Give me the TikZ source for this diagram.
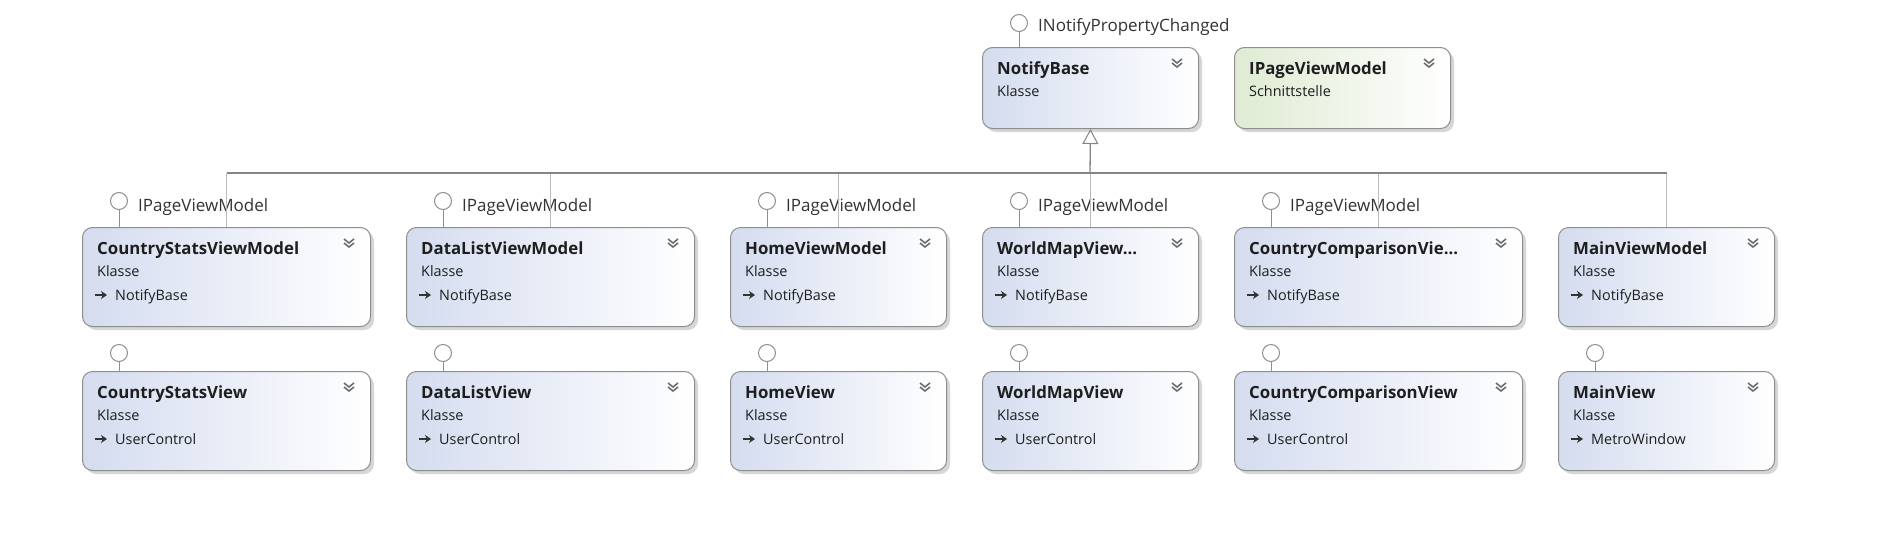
\documentclass[tikz,border=0pt]{standalone}
\usepackage{fontspec}
\setmainfont{Open Sans}
\usetikzlibrary{calc,arrows.meta}
\definecolor{bordc}{HTML}{8E8E8E}
\definecolor{clsL}{HTML}{D4DCEF}
\definecolor{ifcL}{HTML}{DFEBD3}
\definecolor{shadc}{HTML}{D6D6D6}
\definecolor{trunkc}{HTML}{85857F}
\definecolor{stemc}{HTML}{BABABA}
\definecolor{chevc}{HTML}{6E6E6E}
\definecolor{txtc}{HTML}{1E1E1E}
\definecolor{lblc}{HTML}{333333}
\tikzset{
  umlbox/.style={draw=bordc, line width=1pt, rounded corners=10pt, anchor=north west, inner sep=0pt},
  clsfill/.style={left color=clsL, right color=white},
  ifcfill/.style={left color=ifcL, right color=white},
  chev/.style={draw=chevc, line width=1.6pt},
  ttl/.style={anchor=base west, inner sep=0pt, text=txtc, font=\bfseries\fontsize{16.8}{20}\selectfont},
  sub/.style={anchor=base west, inner sep=0pt, text=txtc, font=\fontsize{14.4}{17}\selectfont},
  lbl/.style={anchor=base west, inner sep=0pt, text=lblc, font=\fontsize{17}{20}\selectfont},
  glyph/.style={draw=lblc, line width=2pt, -{Stealth[length=6pt,width=8pt]}},
  lolli/.style={circle, draw=bordc, fill=white, line width=1pt, minimum size=17pt, inner sep=0pt},
  lstem/.style={draw=bordc, line width=1pt},
  trunk/.style={draw=trunkc, line width=1.3pt},
  stem/.style={draw=stemc, line width=1.3pt},
}
\newcommand\mkbox[6]{%
  \fill[shadc, rounded corners=10pt] (#2+4,#3+4) rectangle ++(#4,#5);
  \node[umlbox, #6, minimum width=#4pt, minimum height=#5pt] (#1) at (#2,#3) {};
  \draw[chev] ($(#1.north east)+(-27,12)$) -- ++(5,4) -- ++(5,-4);
  \draw[chev] ($(#1.north east)+(-27,16)$) -- ++(5,4) -- ++(5,-4);
}
\newcommand\mktext[4]{%
  \node[ttl] (#1-t) at ($(#1.north west)+(15,27)$) {#2};
  \node[sub] (#1-k) at ($(#1.north west)+(15,49)$) {#3};
  \if\relax\detokenize{#4}\relax\else
    \draw[glyph] ($(#1.north west)+(13,68)$) -- ++(12,0);
    \node[sub] (#1-b) at ($(#1.north west)+(33,73)$) {#4};
  \fi
}
\newcommand\mklolli[4]{%
  \node[lolli] (#1) at ($(#2.north west)+(37,-#3)$) {};
  \draw[lstem] (#1.south) -- (#1.south |- #2.north);
  \if\relax\detokenize{#4}\relax\else
    \node[lbl] (#1-l) at ($(#2.north west)+(56,-16)$) {#4};
  \fi
}
\begin{document}
\begin{tikzpicture}[x=1pt,y=-1pt]
\path[use as bounding box, fill=white] (0,0) rectangle (1879,533);

\coordinate (bus) at (1090,173);

% row 1
\mkbox{nb}{982}{47}{216}{81}{clsfill}
\mktext{nb}{NotifyBase}{Klasse}{}
\mklolli{lnb}{nb}{24}{INotifyPropertyChanged}
\mkbox{ipvm}{1234}{47}{216}{81}{ifcfill}
\mktext{ipvm}{IPageViewModel}{Schnittstelle}{}

% row 2
\mkbox{csvm}{82}{227}{288}{99}{clsfill}
\mktext{csvm}{CountryStatsViewModel}{Klasse}{NotifyBase}
\mklolli{lcsvm}{csvm}{26}{IPageViewModel}
\mkbox{dlvm}{406}{227}{288}{99}{clsfill}
\mktext{dlvm}{DataListViewModel}{Klasse}{NotifyBase}
\mklolli{ldlvm}{dlvm}{26}{IPageViewModel}
\mkbox{hvm}{730}{227}{216}{99}{clsfill}
\mktext{hvm}{HomeViewModel}{Klasse}{NotifyBase}
\mklolli{lhvm}{hvm}{26}{IPageViewModel}
\mkbox{wmvm}{982}{227}{216}{99}{clsfill}
\mktext{wmvm}{WorldMapView...}{Klasse}{NotifyBase}
\mklolli{lwmvm}{wmvm}{26}{IPageViewModel}
\mkbox{ccvm}{1234}{227}{288}{99}{clsfill}
\mktext{ccvm}{CountryComparisonVie...}{Klasse}{NotifyBase}
\mklolli{lccvm}{ccvm}{26}{IPageViewModel}
\mkbox{mvm}{1558}{227}{216}{99}{clsfill}
\mktext{mvm}{MainViewModel}{Klasse}{NotifyBase}

% row 3
\mkbox{csv}{82}{371}{288}{99}{clsfill}
\mktext{csv}{CountryStatsView}{Klasse}{UserControl}
\mklolli{lcsv}{csv}{18}{}
\mkbox{dlv}{406}{371}{288}{99}{clsfill}
\mktext{dlv}{DataListView}{Klasse}{UserControl}
\mklolli{ldlv}{dlv}{18}{}
\mkbox{hv}{730}{371}{216}{99}{clsfill}
\mktext{hv}{HomeView}{Klasse}{UserControl}
\mklolli{lhv}{hv}{18}{}
\mkbox{wmv}{982}{371}{216}{99}{clsfill}
\mktext{wmv}{WorldMapView}{Klasse}{UserControl}
\mklolli{lwmv}{wmv}{18}{}
\mkbox{ccv}{1234}{371}{288}{99}{clsfill}
\mktext{ccv}{CountryComparisonView}{Klasse}{UserControl}
\mklolli{lccv}{ccv}{18}{}
\mkbox{mv}{1558}{371}{216}{99}{clsfill}
\mktext{mv}{MainView}{Klasse}{MetroWindow}
\mklolli{lmv}{mv}{18}{}

% inheritance tree
\foreach \b in {csvm,dlvm,hvm,wmvm,ccvm,mvm}{
  \draw[stem] (\b.north |- bus) -- (\b.north);
}
\draw[trunk] (csvm.north |- bus) -- (mvm.north |- bus);
\draw[trunk, -{Triangle[open, length=15pt, width=16pt, line width=1pt]}] (bus) -- (nb.south);
\end{tikzpicture}
\end{document}
